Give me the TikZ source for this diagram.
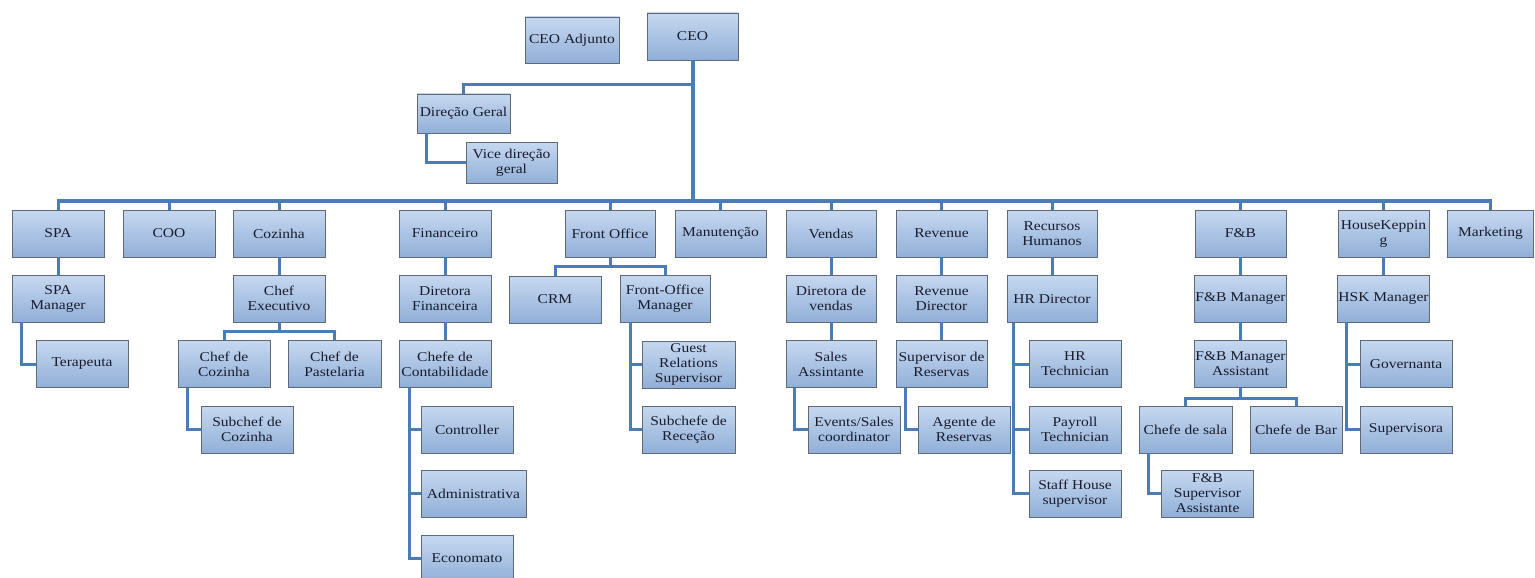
\documentclass[tikz,border=0pt]{standalone}
\usepackage{fontspec}
\setmainfont{Liberation Serif}[FakeStretch=1.15]
\definecolor{boxtop}{RGB}{198,216,240}
\definecolor{boxbot}{RGB}{145,175,215}
\definecolor{boxline}{RGB}{95,105,120}
\definecolor{connc}{RGB}{74,124,184}
\definecolor{txt}{RGB}{25,28,45}
\tikzset{
  orgbox/.style={draw=boxline, line width=0.9pt, top color=boxtop, bottom color=boxbot,
    minimum width=92pt, minimum height=47pt, inner sep=1pt, align=center,
    text=txt, font=\fontsize{13.5}{15}\selectfont},
  conn/.style={draw=connc, line width=3pt},
  busline/.style={draw=connc, line width=4pt}
}
\begin{document}
\begin{tikzpicture}[x=1pt,y=-1pt]
\useasboundingbox (0,0) rectangle (1535,578);
% top
\node[orgbox, minimum width=94pt, minimum height=46pt] (ceoadj) at (572,40) {CEO Adjunto};
\node[orgbox, minimum width=91pt] (ceo) at (692.5,36.5) {CEO};
\node[orgbox, minimum width=93pt, minimum height=39pt] (dg) at (463.5,113.5) {Direção Geral};
\node[orgbox, minimum width=91pt, minimum height=41pt] (vdg) at (511.5,162.5) {Vice direção\\geral};
% row 1
\node[orgbox] (spa) at (58,233.5) {SPA};
\node[orgbox] (coo) at (169,233.5) {COO};
\node[orgbox] (coz) at (279,233.5) {Cozinha};
\node[orgbox] (fin) at (445,233.5) {Financeiro};
\node[orgbox, minimum width=90pt] (fo) at (610,233.5) {Front Office};
\node[orgbox, minimum width=91pt] (man) at (720.5,233.5) {Manutenção};
\node[orgbox, minimum width=90pt] (ven) at (831,233.5) {Vendas};
\node[orgbox, minimum width=91pt] (rev) at (941.5,233.5) {Revenue};
\node[orgbox, minimum width=90pt] (rh) at (1052,233.5) {Recursos\\Humanos};
\node[orgbox, minimum width=91pt] (fb) at (1240.5,233.5) {F\&B};
\node[orgbox, minimum width=91pt] (hsk) at (1383.5,233.5) {HouseKeppin\\g};
\node[orgbox, minimum width=86pt] (mkt) at (1490.5,233.5) {Marketing};
% row 2
\node[orgbox] (spam) at (58,298.5) {SPA\\Manager};
\node[orgbox] (chefex) at (279,298.5) {Chef\\Executivo};
\node[orgbox] (dirfin) at (445,298.5) {Diretora\\Financeira};
\node[orgbox] (crm) at (555,299.5) {CRM};
\node[orgbox, minimum width=90pt] (fom) at (665,298.5) {Front-Office\\Manager};
\node[orgbox, minimum width=90pt] (dirven) at (831,298.5) {Diretora de\\vendas};
\node[orgbox, minimum width=91pt] (revdir) at (941.5,298.5) {Revenue\\Director};
\node[orgbox, minimum width=90pt] (hrdir) at (1052,299) {HR Director};
\node[orgbox, minimum width=91pt] (fbm) at (1240.5,298.5) {F\&B Manager};
\node[orgbox, minimum width=91pt] (hskm) at (1383.5,298.5) {HSK Manager};
% row 3
\node[orgbox] (ter) at (82,364) {Terapeuta};
\node[orgbox] (chcoz) at (224,364) {Chef de\\Cozinha};
\node[orgbox, minimum width=93pt] (chpas) at (334.5,364) {Chef de\\Pastelaria};
\node[orgbox] (chcont) at (445,364) {Chefe de\\Contabilidade};
\node[orgbox, minimum width=93pt] (grs) at (688.5,364.5) {Guest\\Relations\\Supervisor};
\node[orgbox, minimum width=90pt] (sales) at (831,364) {Sales\\Assintante};
\node[orgbox, minimum width=91pt] (supres) at (941.5,364) {Supervisor de\\Reservas};
\node[orgbox] (hrtech) at (1075,364) {HR\\Technician};
\node[orgbox, minimum width=91pt] (fbma) at (1240.5,364) {F\&B Manager\\Assistant};
\node[orgbox] (gov) at (1406,364) {Governanta};
% row 4
\node[orgbox] (subcoz) at (247,429.5) {Subchef de\\Cozinha};
\node[orgbox] (ctrl) at (467,429.5) {Controller};
\node[orgbox, minimum width=93pt] (subrec) at (688.5,429.5) {Subchefe de\\Receção};
\node[orgbox] (evs) at (854,429.5) {Events/Sales\\coordinator};
\node[orgbox] (agres) at (964,429.5) {Agente de\\Reservas};
\node[orgbox] (payroll) at (1075,429.5) {Payroll\\Technician};
\node[orgbox, minimum width=93pt] (chsala) at (1185.5,429.5) {Chefe de sala};
\node[orgbox] (chbar) at (1296,429.5) {Chefe de Bar};
\node[orgbox] (supv) at (1406,429.5) {Supervisora};
% row 5
\node[orgbox, minimum width=105pt] (adm) at (473.5,493.5) {Administrativa};
\node[orgbox] (staff) at (1075,493.5) {Staff House\\supervisor};
\node[orgbox] (fbsa) at (1207.5,493.5) {F\&B\\Supervisor\\Assistante};
% row 6
\node[orgbox] (econ) at (467,558.5) {Economato};
% helper coordinates
\coordinate (busy) at (0,200.5);
\coordinate (dgy) at (0,85);
\coordinate (foy) at (0,266);
\coordinate (chy) at (0,331);
\coordinate (fby) at (0,398);
% connectors top
\draw[busline] (ceo.south) -- (ceo.south |- busy);
\draw[conn] (ceo.south |- dgy) -| (dg.north);
\draw[conn] ([xshift=10pt]dg.south west) |- (vdg.west);
\draw[busline] ([xshift=-1.5pt]spa.north |- busy) -- ([xshift=1.5pt]mkt.north |- busy);
\foreach \n in {spa,coo,coz,fin,fo,man,ven,rev,rh,fb,hsk,mkt}
  \draw[conn] (\n.north) -- (\n.north |- busy);
% vertical straight
\foreach \a/\b in {spa/spam,coz/chefex,fin/dirfin,ven/dirven,rev/revdir,rh/hrdir,fb/fbm,hsk/hskm,dirfin/chcont,dirven/sales,revdir/supres,fbm/fbma}
  \draw[conn] (\a.south) -- (\b.north);
% splits
\draw[conn] (fo.south) -- (fo.south |- foy);
\draw[conn] (crm.north) |- (fom.north |- foy) -- (fom.north);
\draw[conn] (chefex.south) -- (chefex.south |- chy);
\draw[conn] (chcoz.north) |- (chpas.north |- chy) -- (chpas.north);
\draw[conn] (fbma.south) -- (fbma.south |- fby);
\draw[conn] (chsala.north) |- (chbar.north |- fby) -- (chbar.north);
% side rails
\draw[conn] ([xshift=10pt]spam.south west) |- (ter.west);
\draw[conn] ([xshift=10pt]chcoz.south west) |- (subcoz.west);
\draw[conn] ([xshift=11pt]chcont.south west) |- (ctrl.west);
\draw[conn] ([xshift=11pt]chcont.south west) |- (adm.west);
\draw[conn] ([xshift=11pt]chcont.south west) |- (econ.west);
\draw[conn] ([xshift=11pt]fom.south west) |- (grs.west);
\draw[conn] ([xshift=11pt]fom.south west) |- (subrec.west);
\draw[conn] ([xshift=9pt]sales.south west) |- (evs.west);
\draw[conn] ([xshift=10pt]supres.south west) |- (agres.west);
\draw[conn] ([xshift=7pt]hrdir.south west) |- (hrtech.west);
\draw[conn] ([xshift=7pt]hrdir.south west) |- (payroll.west);
\draw[conn] ([xshift=7pt]hrdir.south west) |- (staff.west);
\draw[conn] ([xshift=10pt]chsala.south west) |- (fbsa.west);
\draw[conn] ([xshift=9pt]hskm.south west) |- (gov.west);
\draw[conn] ([xshift=9pt]hskm.south west) |- (supv.west);
\end{tikzpicture}
\end{document}
